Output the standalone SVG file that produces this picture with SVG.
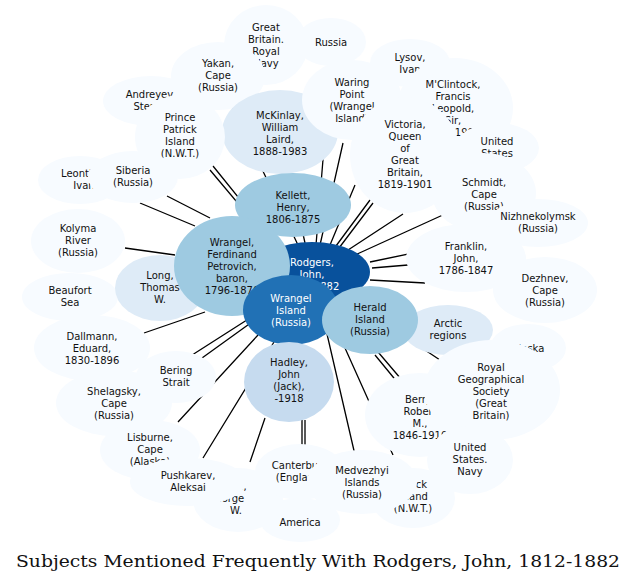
<svg xmlns="http://www.w3.org/2000/svg" width="637" height="583" viewBox="0 0 637 583">
<style>
text{font-family:"DejaVu Sans",sans-serif;font-size:10px;text-anchor:middle;fill:#111}
.w{fill:#fff}
.e path{stroke:#000;stroke-width:1.3;fill:none}
.c0{fill:#f7fbff}.c1{fill:#deebf7}.c2{fill:#c6dbef}.c3{fill:#9ecae1}.c4{fill:#2171b5}.c5{fill:#08519c}
</style>
<rect width="637" height="583" fill="#fff"/>
<g class="e" id="edges">
<path d="M233,108L298,245M290,175L305,243M325,135L316,245M343,143L320,245M213,166L263,228M210,170L262,232M167,196L210,218M140,203L195,226M125,248L175,255M355,185L330,245M370,200L333,250M373,203L336,252M403,214L345,252M445,214L355,255M490,237L370,262M408,265L372,268M370,280L425,283M144,333L205,312M153,380L250,318M202,358L252,322M178,422L258,335M203,458L274,342M250,462L265,418M302,420L302,447M305,420L305,447M327,334L355,455M345,348L393,455M350,300L440,360M338,305L447,433M375,355L398,383M463,335L470,340M465,170L470,166"/>
</g>
<g id="n_gb"><ellipse class="c0" cx="266" cy="45" rx="42" ry="40"/><text x="266" y="31">Great</text><text x="266" y="43">Britain.</text><text x="266" y="55">Royal</text><text x="266" y="67">Navy</text></g>
<g id="n_russia"><ellipse class="c0" cx="331" cy="42" rx="35" ry="24"/><text x="331" y="46">Russia</text></g>
<g id="n_andreyev"><ellipse class="c0" cx="151" cy="101" rx="48" ry="25"/><text x="151" y="98">Andreyev,</text><text x="151" y="110">Stepan</text></g>
<g id="n_yakan"><ellipse class="c0" cx="218" cy="76" rx="47" ry="34"/><text x="218" y="67">Yakan,</text><text x="218" y="79">Cape</text><text x="218" y="91">(Russia)</text></g>
<g id="n_lysov"><ellipse class="c0" cx="410" cy="63" rx="40" ry="24"/><text x="410" y="61">Lysov,</text><text x="410" y="73">Ivan</text></g>
<g id="n_mckinlay"><ellipse class="c1" cx="280" cy="132" rx="58" ry="42"/><text x="280" y="119">McKinlay,</text><text x="280" y="131">William</text><text x="280" y="143">Laird,</text><text x="280" y="155">1888-1983</text></g>
<g id="n_waring"><ellipse class="c0" cx="352" cy="100" rx="50" ry="40"/><text x="352" y="86">Waring</text><text x="352" y="98">Point</text><text x="352" y="110">(Wrangel</text><text x="352" y="122">Island)</text></g>
<g id="n_mclintock"><ellipse class="c0" cx="455" cy="108" rx="58" ry="50"/><text x="453" y="88">M'Clintock,</text><text x="453" y="100">Francis</text><text x="453" y="112">Leopold,</text><text x="453" y="124">Sir,</text><text x="453" y="136">1819-1907</text></g>
<g id="n_us"><ellipse class="c0" cx="497" cy="148" rx="42" ry="25"/><text x="497" y="145">United</text><text x="497" y="157">States</text></g>
<g id="n_victoria"><ellipse class="c0" cx="405" cy="155" rx="55" ry="58"/><text x="405" y="128">Victoria,</text><text x="405" y="140">Queen</text><text x="405" y="152">of</text><text x="405" y="164">Great</text><text x="405" y="176">Britain,</text><text x="405" y="188">1819-1901</text></g>
<g id="n_prince"><ellipse class="c0" cx="180" cy="137" rx="45" ry="42"/><text x="180" y="121">Prince</text><text x="180" y="133">Patrick</text><text x="180" y="145">Island</text><text x="180" y="157">(N.W.T.)</text></g>
<g id="n_leont"><ellipse class="c0" cx="80" cy="180" rx="42" ry="24"/><text x="84" y="177">Leont'ev,</text><text x="84" y="189">Ivan</text></g>
<g id="n_siberia"><ellipse class="c0" cx="133" cy="177" rx="45" ry="26"/><text x="133" y="174">Siberia</text><text x="133" y="186">(Russia)</text></g>
<g id="n_kellett"><ellipse class="c3" cx="293" cy="205" rx="58" ry="32"/><text x="293" y="199">Kellett,</text><text x="293" y="211">Henry,</text><text x="293" y="223">1806-1875</text></g>
<g id="n_schmidt"><ellipse class="c0" cx="484" cy="193" rx="52" ry="40"/><text x="484" y="186">Schmidt,</text><text x="484" y="198">Cape</text><text x="484" y="210">(Russia)</text></g>
<g id="n_nizhne"><ellipse class="c0" cx="538" cy="223" rx="50" ry="24"/><text x="538" y="220">Nizhnekolymsk</text><text x="538" y="232">(Russia)</text></g>
<g id="n_kolyma"><ellipse class="c0" cx="78" cy="241" rx="47" ry="32"/><text x="78" y="232">Kolyma</text><text x="78" y="244">River</text><text x="78" y="256">(Russia)</text></g>
<g id="n_franklin"><ellipse class="c0" cx="466" cy="258" rx="60" ry="34"/><text x="466" y="250">Franklin,</text><text x="466" y="262">John,</text><text x="466" y="274">1786-1847</text></g>
<g id="n_dezhnev"><ellipse class="c0" cx="545" cy="290" rx="52" ry="33"/><text x="545" y="282">Dezhnev,</text><text x="545" y="294">Cape</text><text x="545" y="306">(Russia)</text></g>
<g id="n_beaufort"><ellipse class="c0" cx="70" cy="297" rx="48" ry="24"/><text x="70" y="294">Beaufort</text><text x="70" y="306">Sea</text></g>
<g id="n_long"><ellipse class="c1" cx="160" cy="288" rx="45" ry="33"/><text x="160" y="279">Long,</text><text x="160" y="291">Thomas</text><text x="160" y="303">W.</text></g>
<g id="n_rodgers"><ellipse class="c5" cx="312" cy="272" rx="58" ry="30"/><text class="w" x="312" y="266">Rodgers,</text><text class="w" x="312" y="278">John,</text><text class="w" x="312" y="290">1812-1882</text></g>
<g id="n_wrangel"><ellipse class="c3" cx="232" cy="266" rx="58" ry="50"/><text x="232" y="246">Wrangel,</text><text x="232" y="258">Ferdinand</text><text x="232" y="270">Petrovich,</text><text x="232" y="282">baron,</text><text x="232" y="294">1796-1870</text></g>
<g id="n_wisland"><ellipse class="c4" cx="291" cy="310" rx="48" ry="35"/><text class="w" x="291" y="302">Wrangel</text><text class="w" x="291" y="314">Island</text><text class="w" x="291" y="326">(Russia)</text></g>
<g id="n_arctic"><ellipse class="c1" cx="448" cy="330" rx="45" ry="25"/><text x="448" y="327">Arctic</text><text x="448" y="339">regions</text></g>
<g id="n_alaska"><ellipse class="c0" cx="528" cy="348" rx="38" ry="24"/><text x="528" y="352">Alaska</text></g>
<g id="n_dallmann"><ellipse class="c0" cx="92" cy="348" rx="58" ry="33"/><text x="92" y="340">Dallmann,</text><text x="92" y="352">Eduard,</text><text x="92" y="364">1830-1896</text></g>
<g id="n_bering"><ellipse class="c0" cx="176" cy="377" rx="40" ry="26"/><text x="176" y="374">Bering</text><text x="176" y="386">Strait</text></g>
<g id="n_shelagsky"><ellipse class="c0" cx="114" cy="403" rx="58" ry="33"/><text x="114" y="395">Shelagsky,</text><text x="114" y="407">Cape</text><text x="114" y="419">(Russia)</text></g>
<g id="n_berry"><ellipse class="c0" cx="420" cy="415" rx="55" ry="42"/><text x="420" y="403">Berry,</text><text x="420" y="415">Robert</text><text x="420" y="427">M.,</text><text x="420" y="439">1846-1910</text></g>
<g id="n_rgs"><ellipse class="c0" cx="492" cy="390" rx="68" ry="50"/><text x="491" y="371">Royal</text><text x="491" y="383">Geographical</text><text x="491" y="395">Society</text><text x="491" y="407">(Great</text><text x="491" y="419">Britain)</text></g>
<g id="n_herald"><ellipse class="c3" cx="370" cy="320" rx="48" ry="34"/><text x="370" y="311">Herald</text><text x="370" y="323">Island</text><text x="370" y="335">(Russia)</text></g>
<g id="n_hadley"><ellipse class="c2" cx="289" cy="382" rx="45" ry="40"/><text x="289" y="366">Hadley,</text><text x="289" y="378">John</text><text x="289" y="390">(Jack),</text><text x="289" y="402">-1918</text></g>
<g id="n_usnavy"><ellipse class="c0" cx="470" cy="460" rx="43" ry="34"/><text x="470" y="451">United</text><text x="470" y="463">States.</text><text x="470" y="475">Navy</text></g>
<g id="n_lisburne"><ellipse class="c0" cx="150" cy="450" rx="50" ry="30"/><text x="150" y="441">Lisburne,</text><text x="150" y="453">Cape</text><text x="150" y="465">(Alaska)</text></g>
<g id="n_melville"><ellipse class="c0" cx="238" cy="500" rx="45" ry="32"/><text x="226" y="490">Melville,</text><text x="226" y="502">George</text><text x="236" y="514">W.</text></g>
<g id="n_pushkarev"><ellipse class="c0" cx="188" cy="482" rx="58" ry="24"/><text x="188" y="479">Pushkarev,</text><text x="188" y="491">Aleksai</text></g>
<g id="n_america"><ellipse class="c0" cx="300" cy="520" rx="40" ry="22"/><text x="300" y="526">America</text></g>
<g id="n_canterbury"><ellipse class="c0" cx="300" cy="472" rx="45" ry="28"/><text x="300" y="469">Canterbury</text><text x="300" y="481">(England)</text></g>
<g id="n_brock"><ellipse class="c0" cx="413" cy="498" rx="42" ry="30"/><text x="413" y="488">Brock</text><text x="413" y="500">Island</text><text x="413" y="512">(N.W.T.)</text></g>
<g id="n_medvezhyi"><ellipse class="c0" cx="362" cy="482" rx="55" ry="32"/><text x="362" y="474">Medvezhyi</text><text x="362" y="486">Islands</text><text x="362" y="498">(Russia)</text></g>
<text x="318" y="567" textLength="604" lengthAdjust="spacingAndGlyphs" style="font-family:'DejaVu Serif',serif;font-size:17px">Subjects Mentioned Frequently With Rodgers, John, 1812-1882</text>
</svg>
